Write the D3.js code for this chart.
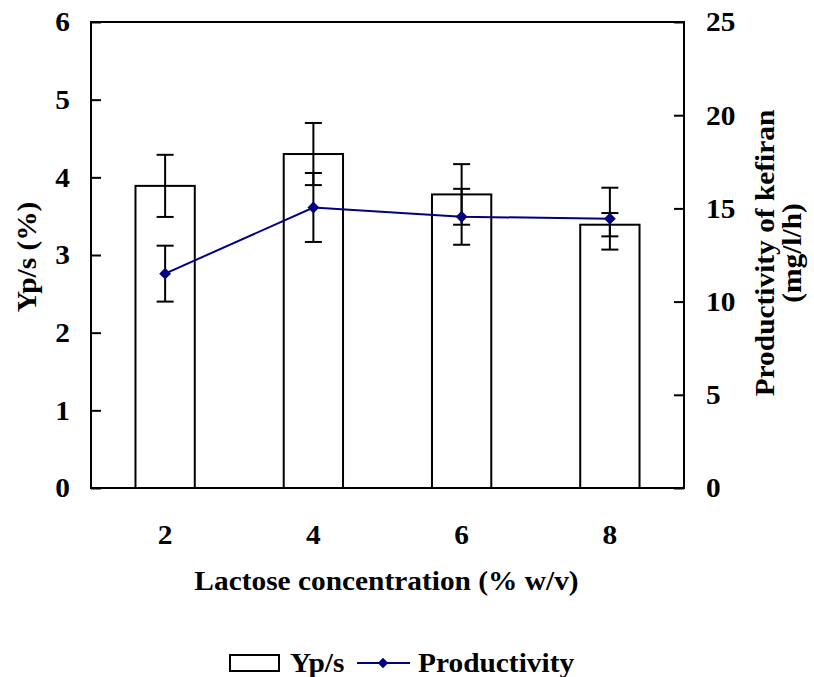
<!DOCTYPE html>
<html>
<head>
<meta charset="utf-8">
<script src="https://cdn.jsdelivr.net/npm/d3@7"></script>
<style>
  body { margin: 0; background: #fff; }
  text { font-family: "Liberation Serif", "Times New Roman", serif; font-weight: bold; fill: #000; }
</style>
</head>
<body>
<div id="chart-container"></div>
<script>
// data
const concentrations = ["2", "4", "6", "8"];
const ypsValues = [3.89, 4.30, 3.78, 3.39];
const ypsErrors = [0.40, 0.40, 0.39, 0.15];
const productivity = [11.5, 15.05, 14.55, 14.45];
const prodErrors = [1.5, 1.85, 1.5, 1.66];
const leftTicks = [0, 1, 2, 3, 4, 5, 6];
const rightTicks = [0, 5, 10, 15, 20, 25];

const margin = { top: 22, right: 130, bottom: 189, left: 91 };
const width = 814 - margin.left - margin.right;
const height = 677 - margin.top - margin.bottom;
const fontSize = "28px";
const wide = 1.05; // the original font runs a bit wider than Liberation Serif

const data = concentrations.map((c, i) => ({
    conc: c, yps: ypsValues[i], ypsErr: ypsErrors[i],
    prod: productivity[i], prodErr: prodErrors[i]
}));

// stretch text along its reading direction, around its anchor point
function stretch(sel) {
    sel.each(function () {
        const t = d3.select(this);
        const tx = +t.attr("x") || 0;
        const ty = +t.attr("y") || 0;
        const prev = t.attr("transform") || "";
        t.attr("transform", `${prev} translate(${tx},${ty}) scale(${wide},1) translate(${-tx},${-ty})`);
    });
}

const svg = d3.select("#chart-container")
    .append("svg")
    .attr("width", 814)
    .attr("height", 677);

const g = svg.append("g")
    .attr("transform", `translate(${margin.left},${margin.top})`);

const x = d3.scaleBand()
    .domain(concentrations)
    .range([0, width])
    .paddingInner(0.6)
    .paddingOuter(0.3);

const y = d3.scaleLinear().domain([0, 6]).range([height, 0]);
const y2 = d3.scaleLinear().domain([0, 25]).range([height, 0]);

// bars
g.selectAll(".bar")
    .data(data)
    .join("rect")
    .attr("class", "bar")
    .attr("x", d => x(d.conc))
    .attr("y", d => y(d.yps))
    .attr("width", x.bandwidth())
    .attr("height", d => height - y(d.yps))
    .attr("fill", "#fff")
    .attr("stroke", "#000")
    .attr("stroke-width", 2);

// error bars helper
function errorBars(cls, yScale, val, err) {
    const cx = d => x(d.conc) + x.bandwidth() / 2;
    const eg = g.selectAll("." + cls).data(data).join("g").attr("class", cls);
    eg.append("line")
        .attr("x1", cx).attr("x2", cx)
        .attr("y1", d => yScale(val(d) + err(d)))
        .attr("y2", d => yScale(val(d) - err(d)));
    eg.append("line")
        .attr("x1", d => cx(d) - 8.5).attr("x2", d => cx(d) + 8.5)
        .attr("y1", d => yScale(val(d) + err(d)))
        .attr("y2", d => yScale(val(d) + err(d)));
    eg.append("line")
        .attr("x1", d => cx(d) - 8.5).attr("x2", d => cx(d) + 8.5)
        .attr("y1", d => yScale(val(d) - err(d)))
        .attr("y2", d => yScale(val(d) - err(d)));
    eg.selectAll("line").attr("stroke", "#000").attr("stroke-width", 2);
}

errorBars("yps-err", y, d => d.yps, d => d.ypsErr);
errorBars("prod-err", y2, d => d.prod, d => d.prodErr);

// productivity line
const line = d3.line()
    .x(d => x(d.conc) + x.bandwidth() / 2)
    .y(d => y2(d.prod));

g.append("path")
    .datum(data)
    .attr("fill", "none")
    .attr("stroke", "#000080")
    .attr("stroke-width", 2)
    .attr("d", line);

g.selectAll(".pt")
    .data(data)
    .join("path")
    .attr("class", "pt")
    .attr("transform", d => `translate(${x(d.conc) + x.bandwidth() / 2},${y2(d.prod)}) rotate(45)`)
    .attr("d", d3.symbol().type(d3.symbolSquare).size(70))
    .attr("fill", "#000080");

// frame
g.append("rect")
    .attr("width", width)
    .attr("height", height)
    .attr("fill", "none")
    .attr("stroke", "#000")
    .attr("stroke-width", 2);

// axes, ticks pointing inward
const leftAxis = g.append("g")
    .call(d3.axisLeft(y).tickValues(leftTicks).tickFormat(d3.format("d"))
        .tickSizeInner(-10).tickSizeOuter(0).tickPadding(21));
const rightAxis = g.append("g")
    .attr("transform", `translate(${width},0)`)
    .call(d3.axisRight(y2).tickValues(rightTicks).tickFormat(d3.format("d"))
        .tickSizeInner(-10).tickSizeOuter(0).tickPadding(22));
const bottomAxis = g.append("g")
    .attr("transform", `translate(0,${height})`)
    .call(d3.axisBottom(x).tickSize(0).tickPadding(36));

[leftAxis, rightAxis, bottomAxis].forEach(a => {
    a.select(".domain").remove();
    a.selectAll("line").attr("stroke", "#000").attr("stroke-width", 2);
    a.selectAll("text")
        .style("font-family", "'Liberation Serif', 'Times New Roman', serif")
        .style("font-weight", "bold")
        .style("font-size", fontSize)
        .call(stretch);
});

// axis titles
svg.append("text")
    .attr("x", margin.left + width / 2 - 1)
    .attr("y", 590)
    .attr("text-anchor", "middle")
    .style("font-size", fontSize)
    .text("Lactose concentration (% w/v)")
    .call(stretch);

svg.append("text")
    .attr("transform", `translate(36,${margin.top + height / 2 + 2}) rotate(-90)`)
    .attr("text-anchor", "middle")
    .style("font-size", fontSize)
    .text("Yp/s (%)")
    .call(stretch);

const rt = svg.append("text")
    .attr("transform", `translate(774,${margin.top + height / 2 - 2}) rotate(-90) scale(${wide},1)`)
    .attr("text-anchor", "middle")
    .style("font-size", fontSize);
rt.append("tspan").attr("x", 0).attr("dy", 0).text("Productivity of kefiran");
rt.append("tspan").attr("x", 0).attr("dy", 27).text("(mg/l/h)");

// legend
const legend = svg.append("g").attr("transform", "translate(230,663)");
legend.append("rect")
    .attr("x", 0).attr("y", -8)
    .attr("width", 49).attr("height", 16)
    .attr("fill", "#fff").attr("stroke", "#000").attr("stroke-width", 2);
legend.append("text")
    .attr("x", 60).attr("y", 9)
    .style("font-size", fontSize)
    .text("Yp/s")
    .call(stretch);
legend.append("line")
    .attr("x1", 127).attr("x2", 180)
    .attr("y1", 0).attr("y2", 0)
    .attr("stroke", "#000080").attr("stroke-width", 2);
legend.append("path")
    .attr("transform", "translate(153,0) rotate(45)")
    .attr("d", d3.symbol().type(d3.symbolSquare).size(55))
    .attr("fill", "#000080");
legend.append("text")
    .attr("x", 188).attr("y", 9)
    .style("font-size", fontSize)
    .text("Productivity")
    .call(stretch);
</script>
</body>
</html>
